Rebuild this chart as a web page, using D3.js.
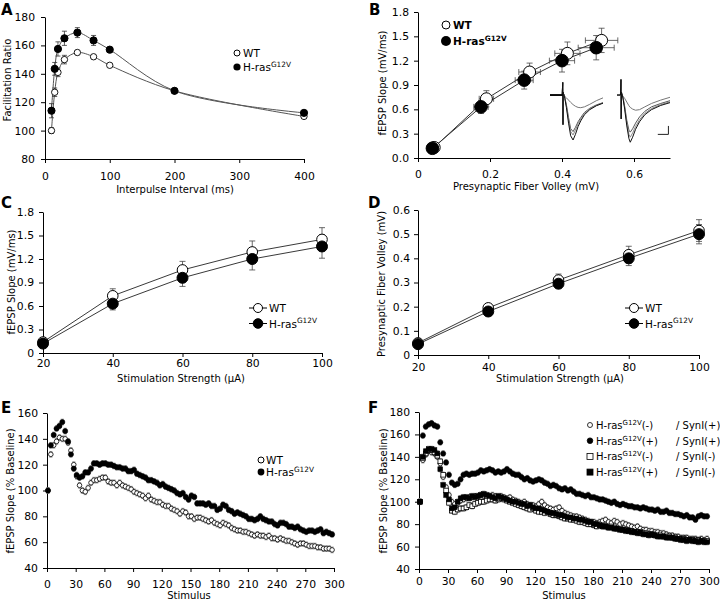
<!DOCTYPE html>
<html><head><meta charset="utf-8">
<script src="https://cdn.jsdelivr.net/npm/d3@7"></script>
<style>body{margin:0;background:#fff}svg{display:block}text{font-family:"DejaVu Sans",sans-serif}</style>
</head><body><script>
// ---------- Panel A ----------
const aIntervals=[10,15,20,30,50,75,100,200,400];
const aWT=[100,127,141,150,155,152,146,128,110];
const aWTerr=[2,3,3,3,1.5,1.5,1,1,1];
const aRas=[114,143.5,157.5,165,169,163.5,157,128,112.5];
const aRasErr=[5,4.5,5,5,3.5,3.5,1.5,1.5,1];
const aXTicks=[0,100,200,300,400];
const aYTicks=[80,100,120,140,160,180];
// ---------- Panel B ----------
const bWTx=[0.045,0.19,0.31,0.415,0.51];
const bWTy=[0.13,0.73,1.06,1.29,1.45];
const bWTxe=[0.008,0.02,0.03,0.035,0.045];
const bWTye=[0.02,0.10,0.11,0.14,0.15];
const bRasx=[0.04,0.175,0.295,0.40,0.495];
const bRasy=[0.12,0.63,0.96,1.20,1.36];
const bRasxe=[0.008,0.02,0.025,0.035,0.05];
const bRasye=[0.02,0.08,0.11,0.14,0.15];
const bXTicks=[0,0.2,0.4,0.6];
const bYTicks=[0,0.3,0.6,0.9,1.2,1.5,1.8];
// inset traces (time ms, voltage mV)
const trLt=[0,4.6,4.8,4.9,5.0,5.1,5.3,5.6,6.2,7,7.8,8.7,9.6,10.6,11.6,13,15,17.5,20];
const trL=[
 [0,0,0.45,-1.05,0.1,0.05,0,-0.05,-0.1,-0.18,-0.26,-0.34,-0.4,-0.44,-0.45,-0.42,-0.33,-0.2,-0.1],
 [0,0,0.45,-1.05,0.1,0.05,0,-0.1,-0.35,-0.8,-1.2,-1.3,-1.15,-0.95,-0.8,-0.62,-0.47,-0.35,-0.27],
 [0,0,0.45,-1.05,0.1,0.05,0,-0.1,-0.4,-0.9,-1.3,-1.42,-1.25,-1.02,-0.85,-0.66,-0.5,-0.37,-0.28],
 [0,0,0.45,-1.05,0.1,0.05,0,-0.12,-0.45,-1.0,-1.45,-1.6,-1.4,-1.12,-0.92,-0.7,-0.52,-0.38,-0.29]];
const trRt=[0,1.3,1.5,1.6,1.7,1.8,2.0,2.3,2.9,3.7,4.5,5.0,5.9,7,8.5,10.5,13,16.5,20];
const trR=[
 [0,0,0.55,-0.85,0.1,0.05,0,-0.05,-0.12,-0.25,-0.38,-0.44,-0.5,-0.54,-0.52,-0.42,-0.3,-0.18,-0.08],
 [0,0,0.55,-0.85,0.1,0.05,0,-0.1,-0.4,-0.9,-1.25,-1.32,-1.2,-1.0,-0.78,-0.58,-0.42,-0.3,-0.2],
 [0,0,0.55,-0.85,0.1,0.05,0,-0.12,-0.45,-1.0,-1.4,-1.5,-1.35,-1.12,-0.88,-0.65,-0.48,-0.34,-0.24],
 [0,0,0.55,-0.85,0.1,0.05,0,-0.14,-0.5,-1.1,-1.55,-1.68,-1.5,-1.22,-0.95,-0.7,-0.52,-0.37,-0.27]];
const trColors=["#777","#555","#888","#111"];
const scaleBarMs=4, scaleBarMv=0.3;
// ---------- Panel C ----------
const cStim=[20,40,60,80,100];
const cWT=[0.14,0.73,1.06,1.29,1.45];
const cWTerr=[0.02,0.09,0.11,0.14,0.15];
const cRas=[0.12,0.63,0.96,1.20,1.36];
const cRasErr=[0.02,0.08,0.11,0.14,0.15];
const cYTicks=[0,0.3,0.6,0.9,1.2,1.5,1.8];
// ---------- Panel D ----------
const dWT=[0.05,0.195,0.31,0.415,0.515];
const dWTerr=[0.01,0.01,0.025,0.035,0.045];
const dRas=[0.045,0.18,0.295,0.40,0.50];
const dRasErr=[0.01,0.01,0.02,0.03,0.04];
const dYTicks=[0,0.1,0.2,0.3,0.4,0.5,0.6];
// ---------- Panel E ----------
const eWT=[100,128,135,138,141,140,140,137,131,120,
 111,104,100,99,102,106,108,108,109,110,
 110,107,106,106,104,106,104,103,102,101,
 99,98,97,96,94,96,93,92,91,91,
 89,88,88,86,85,84,82,84,83,80,
 80,78,79,79,78,77,76,77,75,74,
 73,75,74,73,71,70,69,69,68,68,
 67,66,65,66,65,65,64,65,63,63,
 62,63,62,61,61,60,59,58,59,59,
 58,57,57,57,56,56,55,55,55,54];
const eRas=[100,135,143,148,150,153,146,138,128,117,
 112,110,111,114,114,117,121,121,120,121,
 121,120,120,119,118,118,117,117,115,115,
 116,113,112,111,110,108,108,107,106,104,
 105,103,102,101,100,98,97,98,95,93,
 96,95,90,90,90,89,90,88,88,85,
 86,89,88,85,84,82,83,82,81,80,
 78,78,77,78,80,78,77,76,76,74,
 73,75,75,74,72,72,71,72,70,69,
 68,69,69,68,69,70,67,68,67,66];
const eErr=2.2;
const stimXTicks=[0,30,60,90,120,150,180,210,240,270,300];
const eYTicks=[40,60,80,100,120,140,160];
// ---------- Panel F ----------
const fWTSyn=[100,137,142,145,144,143,140,134,122,113,
 106,100,98,99,101,102,103,104,104,105,
 105,106,105,104,105,106,105,104,105,104,
 103,104,102,101,100,99,100,98,97,97,
 96,98,100,97,95,94,93,94,95,92,
 90,89,88,87,87,86,85,84,83,82,
 82,81,82,83,84,82,81,83,82,80,
 81,80,79,78,77,78,76,75,75,74,
 74,73,73,72,72,71,70,70,69,69,
 68,68,68,67,67,67,66,67,66,67];
const fRasSyn=[100,159,167,169,170,168,167,153,143,135,
 124,117,115,116,120,124,125,124,125,125,
 126,128,127,128,129,128,126,127,126,127,
 129,127,125,124,124,122,120,121,119,118,
 119,120,119,117,116,114,115,114,112,111,
 112,110,111,109,107,107,106,105,106,104,
 104,103,102,102,101,100,99,100,98,97,
 98,97,96,96,95,95,94,95,94,93,
 93,92,93,91,91,92,90,90,89,89,
 88,87,88,86,86,84,87,88,87,87];
const fWTNoSyn=[100,139,143,146,146,144,141,136,124,110,
 99,92,91,93,94,94,95,97,96,98,
 99,100,100,101,102,102,101,102,103,102,
 101,100,99,98,97,96,95,94,93,94,
 92,91,91,90,91,89,88,88,87,86,
 85,85,84,84,83,82,82,81,80,80,
 79,78,79,78,78,77,78,77,76,76,
 75,75,74,74,73,73,72,72,72,71,
 71,70,70,70,69,69,69,68,68,67,
 67,67,66,66,66,65,66,65,65,65];
const fRasNoSyn=[100,140,145,147,147,146,143,129,115,106,
 102,94,95,100,103,104,104,103,105,104,
 105,106,107,106,105,104,103,105,104,103,
 102,101,100,100,99,98,98,96,97,95,
 94,94,93,92,91,90,90,89,88,88,
 87,86,86,85,85,84,84,83,82,82,
 80,80,79,78,78,77,77,76,76,75,
 75,74,74,73,73,72,73,71,71,70,
 71,70,69,69,69,68,68,68,67,67,
 66,66,65,66,65,65,64,65,64,64];
const fErr=2.5;
const fYTicks=[40,60,80,100,120,140,160,180];
const stimStart=1, stimStep=3;

// ================= drawing =================
const svg=d3.select("body").append("svg").attr("width",720).attr("height",602);
const fmtInt=d3.format("d"), fmt1=d3.format(".1f");
const fmtDec=d=>d===0?"0":fmt1(d);

function panel(c){
  const x=d3.scaleLinear().domain(c.xd).range(c.xr);
  const y=d3.scaleLinear().domain(c.yd).range(c.yr);
  const g=svg.append("g");
  g.append("g").attr("transform",`translate(0,${c.yr[0]})`)
    .call(d3.axisBottom(x).tickValues(c.xt).tickFormat(c.xf).tickSize(4).tickSizeOuter(0).tickPadding(c.xp));
  g.append("g").attr("transform",`translate(${c.xr[0]},0)`)
    .call(d3.axisLeft(y).tickValues(c.yt).tickFormat(c.yf).tickSize(4).tickSizeOuter(0).tickPadding(c.yp));
  g.selectAll(".tick text").attr("font-size",10.8).attr("font-family","DejaVu Sans").attr("fill","#000");
  g.selectAll(".domain,.tick line").attr("stroke","#000");
  g.append("text").attr("x",c.tx).attr("y",c.ty).attr("text-anchor","middle").attr("font-size",10).text(c.xtitle);
  g.append("text").attr("transform",`translate(${c.ytx},${c.yty}) rotate(-90)`).attr("text-anchor","middle").attr("font-size",10).text(c.ytitle);
  return {x,y,g};
}
function errV(g,xs,ys,es,x,y,cap,col,w){
  xs.forEach((xv,i)=>{
    const px=x(xv),y1=y(ys[i]-es[i]),y2=y(ys[i]+es[i]);
    g.append("line").attr("x1",px).attr("x2",px).attr("y1",y1).attr("y2",y2).attr("stroke",col).attr("stroke-width",w);
    [y1,y2].forEach(yy=>g.append("line").attr("x1",px-cap).attr("x2",px+cap).attr("y1",yy).attr("y2",yy).attr("stroke",col).attr("stroke-width",w));
  });
}
function errH(g,xs,ys,es,x,y,cap,col,w){
  xs.forEach((xv,i)=>{
    const py=y(ys[i]),x1=x(xv-es[i]),x2=x(xv+es[i]);
    g.append("line").attr("x1",x1).attr("x2",x2).attr("y1",py).attr("y2",py).attr("stroke",col).attr("stroke-width",w);
    [x1,x2].forEach(xx=>g.append("line").attr("x1",xx).attr("x2",xx).attr("y1",py-cap).attr("y2",py+cap).attr("stroke",col).attr("stroke-width",w));
  });
}
function line(g,xs,ys,x,y,curve,col,w){
  g.append("path").attr("d",d3.line().x((d,i)=>x(xs[i])).y(d=>y(d)).curve(curve)(ys))
   .attr("fill","none").attr("stroke",col).attr("stroke-width",w);
}
function dots(g,xs,ys,x,y,r,filled,sw){
  xs.forEach((xv,i)=>g.append("circle").attr("cx",x(xv)).attr("cy",y(ys[i])).attr("r",r)
   .attr("fill",filled?"#000":"#fff").attr("stroke","#000").attr("stroke-width",sw||1));
}
function squares(g,xs,ys,x,y,s,filled,sw){
  xs.forEach((xv,i)=>g.append("rect").attr("x",x(xv)-s/2).attr("y",y(ys[i])-s/2).attr("width",s).attr("height",s)
   .attr("fill",filled?"#000":"#fff").attr("stroke","#000").attr("stroke-width",sw||1));
}
function rasText(t,fs){
  t.append("tspan").text("H-ras");
  t.append("tspan").attr("font-size",fs*0.7).attr("dy",-fs*0.4).text("G12V");
  return t;
}
function letter(s,x,y){
  svg.append("text").attr("x",x).attr("y",y).attr("font-family","'Liberation Serif',serif")
   .attr("font-weight","bold").attr("font-size",15).text(s);
}
letter("A",1,15);letter("B",369,15);letter("C",1,208);letter("D",368,208);letter("E",1,413);letter("F",368,413);

// ---- A ----
{
  const p=panel({xd:[0,400],xr:[45,304],yd:[80,180],yr:[159,17],xt:aXTicks,yt:aYTicks,xf:fmtInt,yf:fmtInt,
    xp:9,yp:6,tx:175,ty:193,xtitle:"Interpulse Interval (ms)",ytx:11,yty:80,ytitle:"Facilitation Ratio"});
  const cr=d3.curveCatmullRom.alpha(0.5);
  line(p.g,aIntervals,aWT,p.x,p.y,cr,"#555",1);
  line(p.g,aIntervals,aRas,p.x,p.y,cr,"#555",1);
  errV(p.g,aIntervals,aWT,aWTerr,p.x,p.y,2.5,"#333",0.8);
  errV(p.g,aIntervals,aRas,aRasErr,p.x,p.y,2.5,"#333",0.8);
  dots(p.g,aIntervals,aWT,p.x,p.y,3.2,false,0.9);
  dots(p.g,aIntervals,aRas,p.x,p.y,3.6,true);
  const lg=p.g.append("g");
  lg.append("circle").attr("cx",237).attr("cy",53).attr("r",3).attr("fill","#fff").attr("stroke","#000");
  lg.append("text").attr("x",243).attr("y",57).attr("font-size",10.5).text("WT");
  lg.append("circle").attr("cx",237).attr("cy",67).attr("r",3.6).attr("fill","#000");
  rasText(lg.append("text").attr("x",243).attr("y",71).attr("font-size",10.5),10.5);
}
// ---- B ----
{
  const p=panel({xd:[0,0.7],xr:[418,670],yd:[0,1.8],yr:[158,12],xt:bXTicks,yt:bYTicks,xf:fmtDec,yf:fmt1,
    xp:8,yp:5,tx:526,ty:190,xtitle:"Presynaptic Fiber Volley (mV)",ytx:386,yty:83,ytitle:"fEPSP Slope (mV/ms)"});
  const lin=d3.curveLinear;
  line(p.g,bWTx,bWTy,p.x,p.y,lin,"#333",1);
  line(p.g,bRasx,bRasy,p.x,p.y,lin,"#333",1);
  errV(p.g,bWTx,bWTy,bWTye,p.x,p.y,3,"#444",0.8);errH(p.g,bWTx,bWTy,bWTxe,p.x,p.y,3,"#444",0.8);
  errV(p.g,bRasx,bRasy,bRasye,p.x,p.y,3,"#444",0.8);errH(p.g,bRasx,bRasy,bRasxe,p.x,p.y,3,"#444",0.8);
  dots(p.g,bWTx,bWTy,p.x,p.y,6,false,1);
  dots(p.g,bRasx,bRasy,p.x,p.y,6.3,true);
  // insets
  const iy=d3.scaleLinear().domain([-1.6,0.5]).range([140,81]);
  const ixL=d3.scaleLinear().domain([0,20]).range([550,603]);
  const ixR=d3.scaleLinear().domain([0,20]).range([617,670]);
  trL.forEach((tr,k)=>p.g.append("path").attr("d",d3.line().x((d,i)=>ixL(trLt[i])).y(d=>iy(d))(tr))
    .attr("fill","none").attr("stroke",trColors[k]).attr("stroke-width",1));
  trR.forEach((tr,k)=>p.g.append("path").attr("d",d3.line().x((d,i)=>ixR(trRt[i])).y(d=>iy(d))(tr))
    .attr("fill","none").attr("stroke",trColors[k]).attr("stroke-width",1));
  p.g.append("line").attr("x1",ixL(0)).attr("x2",ixL(4.8)).attr("y1",iy(0)).attr("y2",iy(0)).attr("stroke","#000").attr("stroke-width",1.6);
  const sbT=19.4, sbV=-1.4;
  p.g.append("path").attr("d",`M${ixR(sbT-scaleBarMs)},${iy(sbV)}H${ixR(sbT)}V${iy(sbV+scaleBarMv)}`)
    .attr("fill","none").attr("stroke","#222").attr("stroke-width",1);
  const lg=p.g.append("g");
  lg.append("circle").attr("cx",446).attr("cy",25).attr("r",4).attr("fill","#fff").attr("stroke","#000");
  lg.append("text").attr("x",453).attr("y",29).attr("font-size",10.5).attr("font-weight","bold").text("WT");
  lg.append("circle").attr("cx",446).attr("cy",41).attr("r",5).attr("fill","#000");
  rasText(lg.append("text").attr("x",453).attr("y",45).attr("font-size",10.5).attr("font-weight","bold"),10.5);
}
// ---- C & D ----
function cdPanel(c,wt,wte,ras,rase,lx,ly){
  const p=panel(c);
  line(p.g,cStim,wt,p.x,p.y,d3.curveLinear,"#222",0.9);
  line(p.g,cStim,ras,p.x,p.y,d3.curveLinear,"#222",0.9);
  errV(p.g,cStim,wt,wte,p.x,p.y,3,"#444",0.8);
  errV(p.g,cStim,ras,rase,p.x,p.y,3,"#444",0.8);
  dots(p.g,cStim,wt,p.x,p.y,5.3,false,1);
  dots(p.g,cStim,ras,p.x,p.y,5.5,true);
  const lg=p.g.append("g");
  [[ly,false],[ly+15.5,true]].forEach(([yy,f],k)=>{
    lg.append("line").attr("x1",lx-9).attr("x2",lx+9).attr("y1",yy).attr("y2",yy).attr("stroke","#000");
    lg.append("circle").attr("cx",lx).attr("cy",yy).attr("r",f?4.8:4.5).attr("fill",f?"#000":"#fff").attr("stroke","#000");
    const t=lg.append("text").attr("x",lx+11).attr("y",yy+4).attr("font-size",10.5);
    if(k===0)t.text("WT");else rasText(t,10.5);
  });
}
cdPanel({xd:[20,100],xr:[43,322],yd:[0,1.8],yr:[353,212],xt:cStim,yt:cYTicks,xf:fmtInt,yf:fmtDec,
  xp:2,yp:5,tx:181,ty:382,xtitle:"Stimulation Strength (\u03bcA)",ytx:15,yty:282,ytitle:"fEPSP Slope (mV/ms)"},
  cWT,cWTerr,cRas,cRasErr,258,308);
cdPanel({xd:[20,100],xr:[418,699],yd:[0,0.6],yr:[355,210],xt:cStim,yt:dYTicks,xf:fmtInt,yf:fmtDec,
  xp:4,yp:4,tx:560,ty:382,xtitle:"Stimulation Strength (\u03bcA)",ytx:385,yty:284,ytitle:"Presynaptic Fiber Volley (mV)"},
  dWT,dWTerr,dRas,dRasErr,634,308);

// ---- E ----
{
  const p=panel({xd:[0,300],xr:[47,334],yd:[40,160],yr:[568,413],xt:stimXTicks,yt:eYTicks,xf:fmtInt,yf:fmtInt,
    xp:8,yp:5,tx:189,ty:599,xtitle:"Stimulus",ytx:14,yty:491,ytitle:"fEPSP Slope (% Baseline)"});
  const stim=eWT.map((d,i)=>stimStart+i*stimStep);
  errV(p.g,stim,eWT,eWT.map(()=>eErr),p.x,p.y,1.6,"#777",0.7);
  errV(p.g,stim,eRas,eRas.map(()=>eErr),p.x,p.y,1.6,"#777",0.7);
  dots(p.g,stim,eWT,p.x,p.y,2.3,false,0.8);
  dots(p.g,stim,eRas,p.x,p.y,2.6,true,0.5);
  const lg=p.g.append("g");
  lg.append("circle").attr("cx",261).attr("cy",460).attr("r",3).attr("fill","#fff").attr("stroke","#000");
  lg.append("text").attr("x",266).attr("y",464).attr("font-size",10.5).text("WT");
  lg.append("circle").attr("cx",261).attr("cy",472).attr("r",3.4).attr("fill","#000");
  rasText(lg.append("text").attr("x",266).attr("y",476).attr("font-size",10.5),10.5);
}
// ---- F ----
{
  const p=panel({xd:[0,300],xr:[419,709],yd:[40,180],yr:[569,412],xt:stimXTicks,yt:fYTicks,xf:fmtInt,yf:fmtInt,
    xp:4,yp:5,tx:564,ty:599,xtitle:"Stimulus",ytx:387,yty:491,ytitle:"fEPSP Slope (% Baseline)"});
  const stim=fWTSyn.map((d,i)=>stimStart+i*stimStep);
  const series=[fWTSyn,fWTNoSyn,fRasNoSyn,fRasSyn];
  series.forEach(s=>errV(p.g,stim,s,s.map(()=>fErr),p.x,p.y,1.6,"#888",0.7));
  dots(p.g,stim,fWTSyn,p.x,p.y,2.3,false,0.8);
  squares(p.g,stim,fWTNoSyn,p.x,p.y,4.6,false,0.8);
  squares(p.g,stim,fRasNoSyn,p.x,p.y,4.8,true,0.5);
  dots(p.g,stim,fRasSyn,p.x,p.y,2.6,true,0.5);
  const lg=p.g.append("g");
  const rows=[["c",false,"(-)","/ SynI(+)"],["c",true,"(+)","/ SynI(+)"],["s",false,"(-)","/ SynI(-)"],["s",true,"(+)","/ SynI(-)"]];
  rows.forEach(([sh,f,a,b],k)=>{
    const yy=425+k*15.7;
    if(sh==="c")lg.append("circle").attr("cx",590).attr("cy",yy).attr("r",f?2.8:2.5).attr("fill",f?"#000":"#fff").attr("stroke","#000").attr("stroke-width",0.8);
    else lg.append("rect").attr("x",587).attr("y",yy-3).attr("width",6).attr("height",6).attr("fill",f?"#000":"#fff").attr("stroke","#000").attr("stroke-width",0.8);
    const t=lg.append("text").attr("x",596).attr("y",yy+4).attr("font-size",10);
    rasText(t,10);
    t.append("tspan").attr("dy",4).text(a);
    t.append("tspan").attr("x",676).text(b);
  });
}
</script></body></html>
